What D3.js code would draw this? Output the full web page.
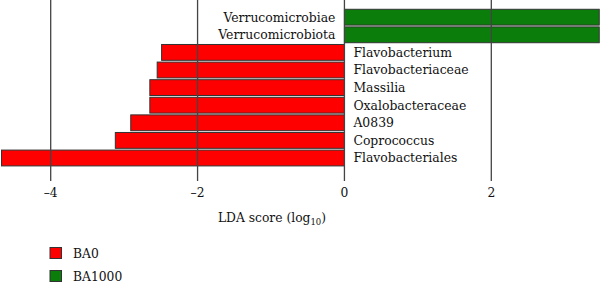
<!DOCTYPE html>
<html><head><meta charset="utf-8">
<script src="https://cdn.jsdelivr.net/npm/d3@7"></script>
<style>body{margin:0;background:#fff}svg{display:block}text{font-family:"DejaVu Serif",serif;fill:#111}</style>
</head><body><svg id="c" width="600" height="282"></svg>
<script>
const categories = ["Verrucomicrobiae","Verrucomicrobiota","Flavobacterium","Flavobacteriaceae","Massilia","Oxalobacteraceae","A0839","Coprococcus","Flavobacteriales"];
const groups = ["BA1000","BA1000","BA0","BA0","BA0","BA0","BA0","BA0","BA0"];
const ldaScores = [3.47,3.47,-2.49,-2.55,-2.65,-2.65,-2.91,-3.12,-4.67];
const tickValues = [-4,-2,0,2];
const legendLabels = ["BA0","BA1000"];
const colors = {BA0:"#ff0000", BA1000:"#0b7d0b"};

const svg = d3.select("#c");
const x = d3.scaleLinear().domain([-4,2]).range([50.7,491.3]);
const y = d3.scaleBand().domain(categories).range([8.4,166.8]).paddingInner(0.1).paddingOuter(0.05);
const data = categories.map((c,i)=>({c, g:groups[i], v:ldaScores[i]}));

svg.append("g").selectAll("rect").data(data).join("rect")
  .attr("x", d=>x(Math.min(0,d.v))).attr("width", d=>Math.abs(x(d.v)-x(0)))
  .attr("y", d=>y(d.c)).attr("height", y.bandwidth())
  .attr("fill", d=>colors[d.g]).attr("stroke","#333").attr("stroke-width",1);

svg.append("g").selectAll("line").data(tickValues).join("line")
  .attr("x1", d=>x(d)).attr("x2", d=>x(d)).attr("y1",0).attr("y2",181)
  .attr("stroke","#444").attr("stroke-width",1.3);

svg.append("g").selectAll("text").data(tickValues).join("text")
  .attr("x", d=>x(d)).attr("y",197).attr("text-anchor","middle").attr("font-size",12.3)
  .text(d=> d<0 ? "\u2013"+Math.abs(d) : d);

svg.append("g").selectAll("text").data(data).join("text")
  .attr("x", d=> d.v<0 ? x(0)+9 : x(0)-9)
  .attr("y", d=>y(d.c)+y.bandwidth()/2).attr("dy","0.36em")
  .attr("text-anchor", d=> d.v<0 ? "start":"end").attr("font-size",12.4)
  .text(d=>d.c);

const t = svg.append("text").attr("x",272).attr("y",222).attr("text-anchor","middle").attr("font-size",12.3);
t.append("tspan").text("LDA score (log");
t.append("tspan").attr("font-size",8.5).attr("dy",3).text("10");
t.append("tspan").attr("dy",-3).text(")");

const lg = svg.append("g").selectAll("g").data(legendLabels).join("g")
  .attr("transform",(d,i)=>`translate(50,${247.5+i*23})`);
lg.append("rect").attr("width",11.5).attr("height",11).attr("fill",d=>colors[d]).attr("stroke","#333");
lg.append("text").attr("x",23).attr("y",10).attr("font-size",12.3).text(d=>d);
</script></body></html>
